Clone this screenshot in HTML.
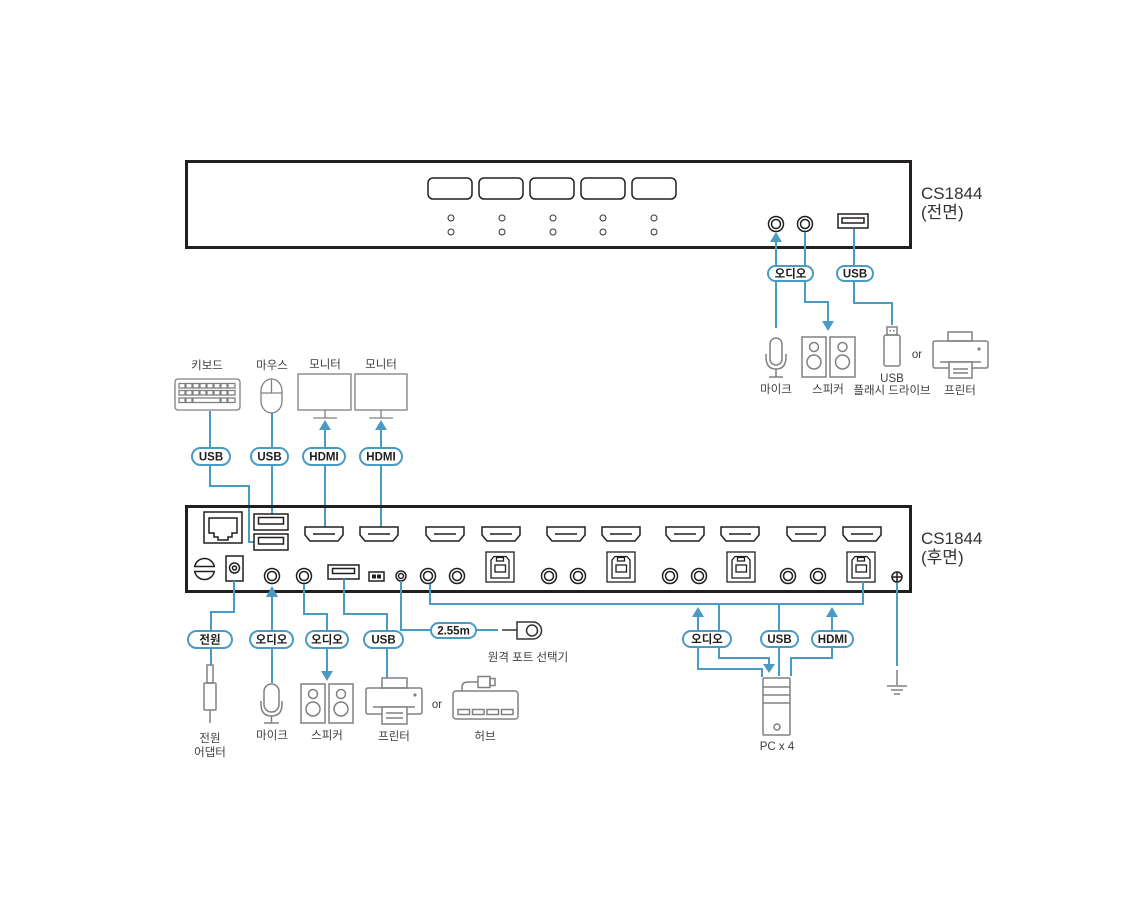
<!DOCTYPE html>
<html>
<head>
<meta charset="utf-8">
<style>
html,body{margin:0;padding:0;background:#fff;}
body{width:1140px;height:913px;overflow:hidden;}
svg{display:block;}
.lbl{font-family:"Liberation Sans","Noto Sans CJK KR",sans-serif;font-size:11.5px;fill:#3d3d3d;text-anchor:middle;}
.pt{font-family:"Liberation Sans","Noto Sans CJK KR",sans-serif;font-size:11.5px;font-weight:bold;fill:#1e1e1e;text-anchor:middle;}
.ttl{font-family:"Liberation Sans","Noto Sans CJK KR",sans-serif;font-size:17px;fill:#333;}
</style>
</head>
<body>
<svg width="1140" height="913" viewBox="0 0 1140 913" xmlns="http://www.w3.org/2000/svg">
<rect width="1140" height="913" fill="#fff"/>

<!-- ============ FRONT PANEL ============ -->
<rect x="186.5" y="161.5" width="724" height="86" fill="none" stroke="#231f20" stroke-width="3"/>
<g fill="none" stroke="#231f20" stroke-width="1.5">
  <rect x="428" y="178" width="44" height="21" rx="5"/>
  <rect x="479" y="178" width="44" height="21" rx="5"/>
  <rect x="530" y="178" width="44" height="21" rx="5"/>
  <rect x="581" y="178" width="44" height="21" rx="5"/>
  <rect x="632" y="178" width="44" height="21" rx="5"/>
</g>
<g fill="none" stroke="#333" stroke-width="1">
  <circle cx="451" cy="218" r="3"/><circle cx="451" cy="232" r="3"/>
  <circle cx="502" cy="218" r="3"/><circle cx="502" cy="232" r="3"/>
  <circle cx="553" cy="218" r="3"/><circle cx="553" cy="232" r="3"/>
  <circle cx="603" cy="218" r="3"/><circle cx="603" cy="232" r="3"/>
  <circle cx="654" cy="218" r="3"/><circle cx="654" cy="232" r="3"/>
</g>
<g fill="none" stroke="#231f20" stroke-width="1.5">
  <circle cx="776" cy="224" r="7.5"/><circle cx="776" cy="224" r="4.5"/>
  <circle cx="805" cy="224" r="7.5"/><circle cx="805" cy="224" r="4.5"/>
  <rect x="838" y="214" width="30" height="14"/>
  <rect x="842" y="218" width="22" height="5"/>
</g>
<text class="ttl" x="921" y="199">CS1844</text>
<text class="ttl" x="921" y="218">(전면)</text>

<!-- front connections -->
<g fill="none" stroke="#4a9bc4" stroke-width="2">
  <path d="M776,241 V328"/>
  <path d="M805,232 V302 H828 V322"/>
  <path d="M854,229 V303 H892 V325"/>
</g>
<g fill="#4a9bc4">
  <polygon points="776,232 770,242 782,242"/>
  <polygon points="828,331 822,321 834,321"/>
</g>
<g fill="#fff" stroke="#4a9bc4" stroke-width="2">
  <rect x="768" y="266" width="45" height="15" rx="7.5"/>
  <rect x="837" y="266" width="36" height="15" rx="7.5"/>
</g>
<text class="pt" x="790.5" y="277.5">오디오</text>
<text class="pt" x="855" y="277.5">USB</text>

<!-- front icons -->
<g fill="none" stroke="#808080" stroke-width="1.5">
  <!-- mic -->
  <rect x="770" y="338" width="12" height="27" rx="6"/>
  <path d="M766,354 V357 Q766,369 776,369 Q786,369 786,357 V354"/>
  <path d="M776,369 V377 M769,377 H783"/>
  <!-- speakers -->
  <rect x="802" y="337" width="24" height="40"/>
  <circle cx="814" cy="347" r="4.5"/><circle cx="814" cy="362" r="7"/>
  <rect x="830" y="337" width="25" height="40"/>
  <circle cx="842.5" cy="347" r="4.5"/><circle cx="842.5" cy="362" r="7"/>
  <!-- usb flash -->
  <rect x="887" y="327" width="10" height="8"/>
  <rect x="884" y="335" width="16" height="31" rx="2"/>
  <!-- printer -->
  <rect x="948" y="332" width="24" height="9"/>
  <rect x="933" y="341" width="55" height="27" rx="2"/>
  <path d="M940,362 H981"/>
  <rect x="949" y="362" width="23" height="16" fill="#fff"/>
  <path d="M953,369 H968 M953,373 H968"/>
</g>
<rect x="889.5" y="330" width="1.5" height="1.5" fill="#808080"/>
<rect x="893" y="330" width="1.5" height="1.5" fill="#808080"/>
<circle cx="979" cy="349" r="1.6" fill="#808080"/>
<text class="lbl" x="776" y="393">마이크</text>
<text class="lbl" x="828" y="393">스피커</text>
<text class="lbl" x="892" y="382">USB</text>
<text class="lbl" x="892" y="394">플래시 드라이브</text>
<text class="lbl" x="917" y="358">or</text>
<text class="lbl" x="960" y="394">프린터</text>

<!-- ============ TOP-LEFT PERIPHERALS ============ -->
<text class="lbl" x="207" y="369">키보드</text>
<text class="lbl" x="272" y="369">마우스</text>
<text class="lbl" x="325" y="368">모니터</text>
<text class="lbl" x="381" y="368">모니터</text>
<g fill="none" stroke="#808080" stroke-width="1.3">
  <rect x="175" y="379" width="65" height="31" rx="3"/>
  <rect x="179" y="383.5" width="6" height="4.5"/><rect x="186" y="383.5" width="6" height="4.5"/>
  <rect x="193" y="383.5" width="6" height="4.5"/><rect x="200" y="383.5" width="6" height="4.5"/>
  <rect x="207" y="383.5" width="6" height="4.5"/><rect x="214" y="383.5" width="6" height="4.5"/>
  <rect x="221" y="383.5" width="6" height="4.5"/><rect x="228" y="383.5" width="7" height="4.5"/>
  <rect x="179" y="390.5" width="6" height="4.5"/><rect x="186" y="390.5" width="6" height="4.5"/>
  <rect x="193" y="390.5" width="6" height="4.5"/><rect x="200" y="390.5" width="6" height="4.5"/>
  <rect x="207" y="390.5" width="6" height="4.5"/><rect x="214" y="390.5" width="6" height="4.5"/>
  <rect x="221" y="390.5" width="6" height="4.5"/><rect x="228" y="390.5" width="7" height="4.5"/>
  <rect x="179" y="398" width="6" height="4.5"/><rect x="186" y="398" width="6" height="4.5"/>
  <rect x="193" y="398" width="27" height="4.5"/>
  <rect x="221" y="398" width="6" height="4.5"/><rect x="228" y="398" width="7" height="4.5"/>
  <!-- mouse -->
  <rect x="261" y="379" width="21" height="34" rx="10.5" ry="12"/>
  <path d="M271.5,379 V393 M261.5,393 H281.5"/>
  <!-- monitors -->
  <rect x="298" y="374" width="53" height="36"/>
  <path d="M325,410 V418 M313,418 H337"/>
  <rect x="355" y="374" width="52" height="36"/>
  <path d="M381,410 V418 M369,418 H393"/>
</g>
<g fill="none" stroke="#4a9bc4" stroke-width="2">
  <path d="M210,411 V486 H249 V542 H254"/>
  <path d="M272,413 V514"/>
  <path d="M325,429 V527"/>
  <path d="M381,429 V527"/>
</g>
<g fill="#4a9bc4">
  <polygon points="325,420 319,430 331,430"/>
  <polygon points="381,420 375,430 387,430"/>
</g>
<g fill="#fff" stroke="#4a9bc4" stroke-width="2">
  <rect x="192" y="448" width="38" height="17" rx="8.5"/>
  <rect x="251" y="448" width="37" height="17" rx="8.5"/>
  <rect x="303" y="448" width="42" height="17" rx="8.5"/>
  <rect x="360" y="448" width="42" height="17" rx="8.5"/>
</g>
<text class="pt" x="211" y="460.5">USB</text>
<text class="pt" x="269.5" y="460.5">USB</text>
<text class="pt" x="324" y="460.5">HDMI</text>
<text class="pt" x="381" y="460.5">HDMI</text>

<!-- ============ REAR PANEL ============ -->
<rect x="186.5" y="506.5" width="724" height="85" fill="none" stroke="#231f20" stroke-width="3"/>
<g fill="none" stroke="#231f20" stroke-width="1.5">
  <!-- RJ45 -->
  <rect x="204" y="512" width="38" height="31"/>
  <path d="M209,518 H237 V533 H232 V537 H228 V540 H218 V537 H214 V533 H209 Z"/>
  <!-- USB-A stack -->
  <rect x="254" y="514" width="34" height="16"/>
  <rect x="258.5" y="517.5" width="25" height="6.5"/>
  <rect x="254" y="534" width="34" height="16"/>
  <rect x="258.5" y="537.5" width="25" height="6.5"/>
  <!-- HDMI ports -->
  <path d="M305,527 H343 V535 L338,541 H310 L305,535 Z M313,534 H335"/>
  <path d="M360,527 H398 V535 L393,541 H365 L360,535 Z M368,534 H390"/>
  <path d="M426,527 H464 V535 L459,541 H431 L426,535 Z M434,534 H456"/>
  <path d="M482,527 H520 V535 L515,541 H487 L482,535 Z M490,534 H512"/>
  <path d="M547,527 H585 V535 L580,541 H552 L547,535 Z M555,534 H577"/>
  <path d="M602,527 H640 V535 L635,541 H607 L602,535 Z M610,534 H632"/>
  <path d="M666,527 H704 V535 L699,541 H671 L666,535 Z M674,534 H696"/>
  <path d="M721,527 H759 V535 L754,541 H726 L721,535 Z M729,534 H751"/>
  <path d="M787,527 H825 V535 L820,541 H792 L787,535 Z M795,534 H817"/>
  <path d="M843,527 H881 V535 L876,541 H848 L843,535 Z M851,534 H873"/>
  <!-- power switch -->
  <path d="M194.7,566.5 A10,10 0 0 1 214.3,566.5 Z"/>
  <path d="M194.7,571.5 A10,10 0 0 0 214.3,571.5 Z"/>
  <!-- DC jack -->
  <rect x="226" y="556" width="17" height="25"/>
  <circle cx="234.5" cy="568" r="5"/><circle cx="234.5" cy="568" r="2"/>
  <!-- audio jacks -->
  <circle cx="272" cy="576" r="7.5"/><circle cx="272" cy="576" r="4.5"/>
  <circle cx="304" cy="576" r="7.5"/><circle cx="304" cy="576" r="4.5"/>
  <circle cx="428" cy="576" r="7.5"/><circle cx="428" cy="576" r="4.5"/>
  <circle cx="457" cy="576" r="7.5"/><circle cx="457" cy="576" r="4.5"/>
  <circle cx="549" cy="576" r="7.5"/><circle cx="549" cy="576" r="4.5"/>
  <circle cx="578" cy="576" r="7.5"/><circle cx="578" cy="576" r="4.5"/>
  <circle cx="670" cy="576" r="7.5"/><circle cx="670" cy="576" r="4.5"/>
  <circle cx="699" cy="576" r="7.5"/><circle cx="699" cy="576" r="4.5"/>
  <circle cx="788" cy="576" r="7.5"/><circle cx="788" cy="576" r="4.5"/>
  <circle cx="818" cy="576" r="7.5"/><circle cx="818" cy="576" r="4.5"/>
  <!-- USB-A rear -->
  <rect x="328" y="565" width="31" height="14"/>
  <rect x="332.5" y="568.5" width="22" height="5"/>
  <!-- switch -->
  <rect x="369" y="572" width="15" height="9"/>
  <!-- remote jack -->
  <circle cx="401" cy="576" r="5"/><circle cx="401" cy="576" r="2.5"/>
  <!-- ground -->
  <circle cx="897" cy="577" r="5"/>
  <path d="M892,577 H902 M897,572 V582"/>
</g>
<rect x="372" y="574.5" width="4" height="4" fill="#231f20"/>
<rect x="377" y="574.5" width="4" height="4" fill="#231f20"/>
<!-- USB-B ports -->
<g fill="none" stroke="#231f20" stroke-width="1.3">
  <rect x="486" y="552" width="28" height="30"/>
  <path d="M491,560 L494,556.5 H506 L509,560 V578 H491 Z"/>
  <rect x="496.5" y="557.5" width="7" height="3.5"/>
  <rect x="495" y="565" width="10.5" height="7"/>
  <rect x="607" y="552" width="28" height="30"/>
  <path d="M612,560 L615,556.5 H627 L630,560 V578 H612 Z"/>
  <rect x="617.5" y="557.5" width="7" height="3.5"/>
  <rect x="616" y="565" width="10.5" height="7"/>
  <rect x="727" y="552" width="28" height="30"/>
  <path d="M732,560 L735,556.5 H747 L750,560 V578 H732 Z"/>
  <rect x="737.5" y="557.5" width="7" height="3.5"/>
  <rect x="736" y="565" width="10.5" height="7"/>
  <rect x="847" y="552" width="28" height="30"/>
  <path d="M852,560 L855,556.5 H867 L870,560 V578 H852 Z"/>
  <rect x="857.5" y="557.5" width="7" height="3.5"/>
  <rect x="856" y="565" width="10.5" height="7"/>
</g>
<text class="ttl" x="921" y="544">CS1844</text>
<text class="ttl" x="921" y="563">(후면)</text>

<!-- ============ BOTTOM CONNECTIONS ============ -->
<g fill="none" stroke="#4a9bc4" stroke-width="2">
  <path d="M234,581 V612 H211 V665"/>
  <path d="M272,596 V683"/>
  <path d="M304,584 V614 H327 V672"/>
  <path d="M344,579 V614 H387 V678"/>
  <path d="M401,581 V630 H498"/>
  <path d="M430,584 V604 H863 V582"/>
  <path d="M698,616 V669 H762 V677"/>
  <path d="M719,604 V658 H769 V665"/>
  <path d="M779,604 V676"/>
  <path d="M832,616 V658 H791 V676"/>
  <path d="M897,583 V666"/>
</g>
<g fill="#4a9bc4">
  <polygon points="272,586 266,597 278,597"/>
  <polygon points="327,681 321,671 333,671"/>
  <polygon points="698,607 692,617 704,617"/>
  <polygon points="769,673 763,664 775,664"/>
  <polygon points="832,607 826,617 838,617"/>
</g>
<g fill="#fff" stroke="#4a9bc4" stroke-width="2">
  <rect x="188" y="631" width="44" height="17" rx="8.5"/>
  <rect x="250" y="631" width="43" height="17" rx="8.5"/>
  <rect x="306" y="631" width="42" height="17" rx="8.5"/>
  <rect x="364" y="631" width="39" height="17" rx="8.5"/>
  <rect x="431" y="623" width="45" height="15" rx="7.5"/>
  <rect x="683" y="631" width="48" height="16" rx="8"/>
  <rect x="761" y="631" width="37" height="16" rx="8"/>
  <rect x="812" y="631" width="41" height="16" rx="8"/>
</g>
<text class="pt" x="210" y="643.5">전원</text>
<text class="pt" x="271.5" y="643.5">오디오</text>
<text class="pt" x="327" y="643.5">오디오</text>
<text class="pt" x="383.5" y="643.5">USB</text>
<text class="pt" x="453.5" y="634.5">2.55m</text>
<text class="pt" x="707" y="643">오디오</text>
<text class="pt" x="779.5" y="643">USB</text>
<text class="pt" x="832.5" y="643">HDMI</text>

<!-- bottom icons -->
<g fill="none" stroke="#808080" stroke-width="1.5">
  <!-- power adapter -->
  <rect x="207" y="665" width="6" height="18"/>
  <rect x="204" y="683" width="12" height="27" rx="1"/>
  <path d="M210,710 V723"/>
  <!-- mic -->
  <rect x="264" y="684" width="15" height="28" rx="7.5"/>
  <path d="M261,701 V704 Q261,716 271.5,716 Q282,716 282,704 V701"/>
  <path d="M271.5,716 V723 M264,723 H279"/>
  <!-- speakers -->
  <rect x="301" y="684" width="24" height="39"/>
  <circle cx="313" cy="694" r="4.5"/><circle cx="313" cy="709" r="7"/>
  <rect x="329" y="684" width="24" height="39"/>
  <circle cx="341" cy="694" r="4.5"/><circle cx="341" cy="709" r="7"/>
  <!-- printer -->
  <rect x="382" y="678" width="25" height="10"/>
  <rect x="366" y="688" width="56" height="26" rx="2"/>
  <path d="M373,707 H415"/>
  <rect x="382" y="707" width="25" height="17" fill="#fff"/>
  <path d="M386,713 H403 M386,718 H403"/>
  <!-- hub -->
  <rect x="453" y="691" width="65" height="28" rx="3"/>
  <rect x="458" y="709.5" width="11.5" height="5"/>
  <rect x="472.5" y="709.5" width="11.5" height="5"/>
  <rect x="487" y="709.5" width="11.5" height="5"/>
  <rect x="501.5" y="709.5" width="11.5" height="5"/>
  <path d="M462,691 V687 Q462,682 468,682 H478"/>
  <rect x="478" y="676.5" width="12" height="11"/>
  <rect x="490" y="678.5" width="5" height="7"/>
  <!-- PC tower -->
  <rect x="763" y="678" width="27" height="57" rx="1"/>
  <path d="M763,687 H790 M763,695 H790 M763,703 H790"/>
  <circle cx="777" cy="727" r="3"/>
  <!-- ground -->
  <path d="M897,670 V685 M887,686 H907 M891,690 H903 M894,694 H900"/>
</g>
<circle cx="415" cy="695" r="1.6" fill="#808080"/>
<!-- remote port selector -->
<g fill="none" stroke="#333" stroke-width="1.5">
  <path d="M502,630 H517"/>
  <path d="M517,622 V639 H533 A8.5,8.5 0 0 0 533,622 Z"/>
  <circle cx="532" cy="630.5" r="5.5"/>
</g>

<text class="lbl" x="210" y="742">전원</text>
<text class="lbl" x="210" y="756">어댑터</text>
<text class="lbl" x="272" y="739">마이크</text>
<text class="lbl" x="327" y="739">스피커</text>
<text class="lbl" x="394" y="740">프린터</text>
<text class="lbl" x="437" y="708">or</text>
<text class="lbl" x="485" y="740">허브</text>
<text class="lbl" x="528" y="661">원격 포트 선택기</text>
<text class="lbl" x="777" y="750">PC x 4</text>
</svg>
</body>
</html>
